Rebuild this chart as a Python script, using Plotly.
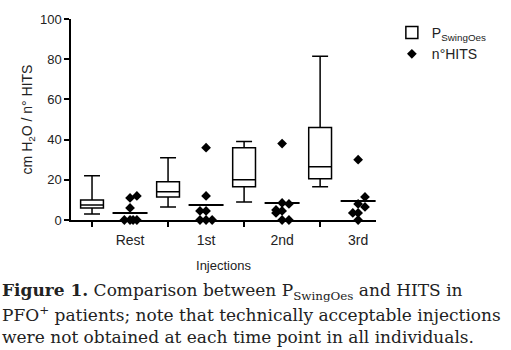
import plotly.graph_objects as go

categories = ["Rest", "1st", "2nd", "3rd"]

# P_SwingOes box statistics (cm H2O)
swing_low = [3, 6.5, 9, 16.5]
swing_q1 = [6, 11.5, 16.5, 20.5]
swing_median = [7.5, 14, 20, 26.5]
swing_q3 = [10, 19, 36, 46]
swing_high = [22, 31, 39, 81.5]

# n°HITS individual values per group, with horizontal scatter offsets
hits_rest = [0, 0, 0, 0, 6, 11, 12]
hits_1st = [36, 12, 4.5, 4.5, 0, 0, 0]
hits_2nd = [38, 8.5, 8, 5, 4.5, 3.5, 0, 0]
hits_3rd = [30, 11.5, 8, 6.5, 3.5, 3.5, 0]
hits_groups = [hits_rest, hits_1st, hits_2nd, hits_3rd]

jit_rest = [-0.15, 0.0, 0.08, 0.18, 0.0, 0.0, 0.18]
jit_1st = [0.0, 0.0, -0.16, 0.0, -0.16, 0.0, 0.16]
jit_2nd = [0.0, 0.0, 0.18, -0.16, 0.0, -0.16, 0.0, 0.18]
jit_3rd = [0.0, 0.18, 0.0, 0.18, -0.14, 0.0, 0.0]
jit_groups = [jit_rest, jit_1st, jit_2nd, jit_3rd]

# horizontal line through each HITS group (mean)
hits_line = [3.5, 7.5, 8.5, 9.5]

y_ticks = [0, 20, 40, 60, 80, 100]

box_pos = [2 * i + 1 for i in range(len(categories))]
hits_pos = [2 * i + 2 for i in range(len(categories))]

fig = go.Figure()

fig.add_trace(go.Box(
    x=box_pos, q1=swing_q1, median=swing_median, q3=swing_q3,
    lowerfence=swing_low, upperfence=swing_high,
    width=0.6, whiskerwidth=0.7,
    fillcolor="white", line=dict(color="black", width=1.5),
    name="P<sub>SwingOes</sub>", showlegend=True,
))

hx, hy = [], []
for p, vals, jit in zip(hits_pos, hits_groups, jit_groups):
    for v, j in zip(vals, jit):
        hx.append(p + j)
        hy.append(v)

fig.add_trace(go.Scatter(
    x=hx, y=hy, mode="markers",
    marker=dict(symbol="diamond", size=7.5, color="black"),
    name="n°HITS", showlegend=True, cliponaxis=False,
))

fig.add_trace(go.Scatter(
    x=hits_pos, y=hits_line, mode="markers",
    marker=dict(symbol="line-ew-open", size=25, color="black",
                line=dict(color="black", width=2)),
    showlegend=False, hoverinfo="skip", cliponaxis=False,
))

axis_font = dict(family="Liberation Sans", size=13, color="#222")

fig.update_layout(
    width=511, height=350,
    margin=dict(l=71, r=135, t=19, b=130),
    paper_bgcolor="white", plot_bgcolor="white",
    font=axis_font,
    xaxis=dict(
        range=[0.447, 8.47], showgrid=False, zeroline=False,
        showline=True, linecolor="black", linewidth=1.5,
        tickvals=hits_pos, ticktext=categories, ticks="",
        ticklabelstandoff=6,
        minor=dict(tick0=1, dtick=2, ticks="outside", ticklen=5, tickcolor="black", tickwidth=1.5),
        title=dict(text="Injections", font=dict(family="Liberation Sans", size=13, color="#222"), standoff=14),
        tickfont=dict(family="Liberation Sans", size=14, color="#222"),
    ),
    yaxis=dict(
        range=[0, 100], showgrid=False, zeroline=False,
        showline=True, linecolor="black", linewidth=1.5,
        tickvals=y_ticks, ticks="outside", ticklen=5, tickcolor="black", tickwidth=1.5,
        title=dict(text="cm H<sub>2</sub>O / n° HITS", font=dict(family="Liberation Sans", size=14, color="#222"), standoff=4),
        tickfont=axis_font,
    ),
    legend=dict(
        x=1.052, y=1.01, xanchor="left", yanchor="top",
        font=dict(family="Liberation Sans", size=14, color="#222"), bgcolor="rgba(0,0,0,0)",
        tracegroupgap=6, itemwidth=30,
    ),
)

cap_font = dict(family="DejaVu Serif", size=17, color="#222")
caption_lines = [
    "<b>Figure 1.</b> Comparison between P<sub>SwingOes</sub> and HITS in",
    "PFO<sup>+</sup> patients; note that technically acceptable injections",
    "were not obtained at each time point in all individuals.",
]
caption_y_px = [291, 314, 337]
for line, py in zip(caption_lines, caption_y_px):
    fig.add_annotation(
        text=line, xref="paper", yref="paper",
        x=(0 - 71) / 305, y=(220 - py) / 201,
        xanchor="left", yanchor="middle", showarrow=False,
        font=cap_font, align="left",
    )

fig.write_html("out.html")
